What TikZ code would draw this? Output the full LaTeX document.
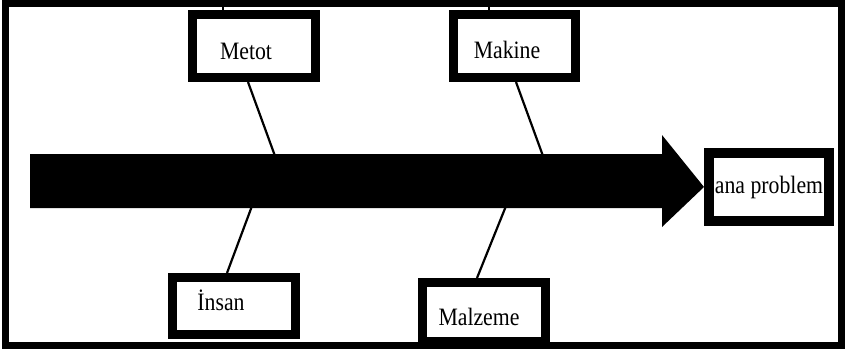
\documentclass[tikz,border=0pt]{standalone}
\usepackage{graphicx}
\usepackage{fontspec}
\setmainfont{Liberation Serif}
\usetikzlibrary{calc}
\newcommand\boxtext[3]{\makebox[0pt]{\hspace*{#1}\raisebox{#2}[0pt][0pt]{\scalebox{0.87}[1]{#3}}}}
\tikzset{
  causebox/.style={draw=black, fill=white, line width=9pt, inner sep=0pt,
    font=\fontsize{25}{28}\selectfont},
  bone/.style={draw=black, line width=2.2pt},
  frameline/.style={draw=black, line width=7pt},
}
\begin{document}
\begin{tikzpicture}[x=1pt, y=-1pt]
\useasboundingbox[fill=white] (0,0) rectangle (848,350);
% outer frame
\draw[frameline] (5.5,3.5) rectangle (841,345);
% coordinates
\coordinate (topA) at (223,3.5);
\coordinate (topB) at (489,3.5);
\coordinate (sMetot) at (275,156);
\coordinate (sMakine) at (543,156);
\coordinate (sInsan) at (252,206);
\coordinate (sMalzeme) at (506,206);
% boxes
\node[causebox, minimum width=123pt, minimum height=63pt] (metot) at (254,46)
  {\boxtext{-16pt}{-13.3pt}{Metot}};
\node[causebox, minimum width=122pt, minimum height=63pt] (makine) at (514.5,46)
  {\boxtext{-15pt}{-12.8pt}{Makine}};
\node[causebox, minimum width=123pt, minimum height=57pt] (insan) at (234,306)
  {\boxtext{-26pt}{-4pt}{İnsan}};
\node[causebox, minimum width=123pt, minimum height=59pt] (malzeme) at (484,312)
  {\boxtext{-10pt}{-13pt}{Malzeme}};
\node[causebox, line width=10pt, minimum width=120pt, minimum height=68pt] (problem) at (769,187)
  {\boxtext{0pt}{-6pt}{ana problem}};
% connectors
\draw[bone] (metot.north -| topA) -- (topA);
\draw[bone] (makine.north -| topB) -- (topB);
\draw[bone] ($(metot.south)+(-6,0)$) -- (sMetot);
\draw[bone] ($(makine.south)+(1.5,0)$) -- (sMakine);
\draw[bone] ($(insan.north)+(-7,0)$) -- (sInsan);
\draw[bone] ($(malzeme.north)+(-7,0)$) -- (sMalzeme);
% spine
\fill[black] (30,154) -- (662,154) -- (662,135) -- (problem.west) -- (662,227)
  -- (662,208) -- (30,208) -- cycle;
\end{tikzpicture}
\end{document}
